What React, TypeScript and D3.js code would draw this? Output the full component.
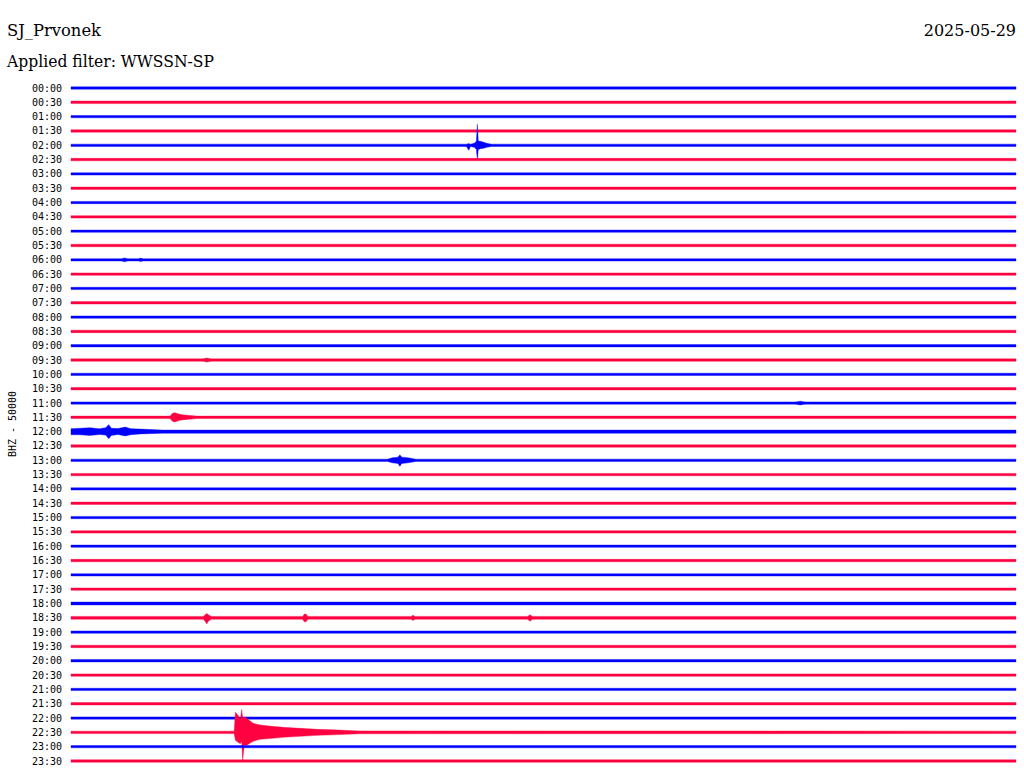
import { useEffect } from "react";
import * as d3 from "d3";

// helicorder: 48 rows of 30 minutes, BHZ channel
const station = "SJ_Prvonek";
const filterName = "WWSSN-SP";
const day = "2025-05-29";
const channelLabel = "BHZ - 50000";

const rowLabels = [
    "00:00", "00:30", "01:00", "01:30", "02:00", "02:30", "03:00", "03:30",
    "04:00", "04:30", "05:00", "05:30", "06:00", "06:30", "07:00", "07:30",
    "08:00", "08:30", "09:00", "09:30", "10:00", "10:30", "11:00", "11:30",
    "12:00", "12:30", "13:00", "13:30", "14:00", "14:30", "15:00", "15:30",
    "16:00", "16:30", "17:00", "17:30", "18:00", "18:30", "19:00", "19:30",
    "20:00", "20:30", "21:00", "21:30", "22:00", "22:30", "23:00", "23:30",
];

// background noise half-amplitude per row (counts)
const rowNoise = [
    4000, 4500, 4000, 4300, 4000, 4300, 4000, 4200, 4000, 4200, 4000, 4300,
    4000, 4200, 4000, 4200, 4000, 4300, 4000, 4300, 4000, 4200, 4000, 4300,
    5500, 4300, 4000, 4200, 4000, 4200, 4000, 4200, 4000, 4200, 4000, 4200,
    5000, 5000, 4000, 4200, 4000, 4200, 4000, 4200, 4000, 4300, 4000, 4300,
];

// event envelopes: [minute in row, upward counts, downward counts]
type EnvPoint = [number, number, number];
const eventRows = [4, 12, 19, 22, 23, 24, 26, 37, 45];
const eventEnvelopes: EnvPoint[][] = [
    [
        [12.55, 4000, 4000], [12.63, 6000, 17500], [12.68, 4000, 4000],
        [12.8, 7000, 7000], [12.87, 14000, 14000], [12.9, 73500, 52500],
        [12.93, 15000, 15000], [13.0, 14000, 12000], [13.1, 10500, 10500],
        [13.2, 7000, 7000], [13.35, 4000, 4000],
    ],
    [
        [1.6, 4000, 4000], [1.7, 6500, 6500], [1.8, 4000, 4000],
        [2.15, 4000, 4000], [2.2, 6000, 6000], [2.3, 4000, 4000],
    ],
    [
        [4.2, 4300, 4300], [4.3, 7000, 7000], [4.45, 4300, 4300],
    ],
    [
        [23.0, 4000, 4000], [23.15, 6500, 6500], [23.3, 4000, 4000],
    ],
    [
        [3.15, 4300, 4300], [3.22, 14000, 14000], [3.3, 16000, 16000],
        [3.45, 10500, 10500], [3.6, 8000, 8000], [4.0, 4300, 4300],
    ],
    [
        [0.0, 10500, 10500], [0.3, 12000, 11000], [0.6, 14000, 13000],
        [0.9, 10000, 10000], [1.1, 14000, 12000], [1.2, 24500, 24500],
        [1.28, 12000, 13000], [1.5, 11000, 10000], [1.72, 16000, 15000],
        [1.9, 10500, 10500], [2.2, 9000, 8000], [2.9, 5500, 5500],
    ],
    [
        [10.05, 4000, 4000], [10.2, 9000, 9000], [10.38, 11000, 11000],
        [10.44, 19000, 21000], [10.5, 11000, 11000], [10.7, 9000, 9000],
        [10.95, 4000, 4000],
    ],
    [
        [4.2, 5000, 5000], [4.27, 12000, 14000], [4.31, 15000, 22000],
        [4.36, 11000, 12000], [4.45, 5000, 5000], [7.35, 5000, 5000],
        [7.41, 13000, 14000], [7.46, 13000, 14000], [7.52, 5000, 5000],
        [10.8, 5000, 5000], [10.86, 9000, 9000], [10.92, 5000, 5000],
        [14.5, 5000, 5000], [14.57, 11000, 12000], [14.65, 5000, 5000],
    ],
    [
        [5.18, 4300, 4300], [5.22, 70000, 28000], [5.3, 60000, 35000],
        [5.38, 45000, 40000], [5.42, 80000, 30000], [5.45, 50000, 98000],
        [5.5, 55000, 45000], [5.58, 49000, 45000], [5.78, 31500, 31500],
        [6.0, 26000, 24000], [6.22, 22700, 22700], [6.73, 17500, 17500],
        [7.27, 14000, 14000], [7.81, 10500, 10500], [8.32, 8700, 8700],
        [9.17, 5000, 5000],
    ],
];

const traceColors = ["#0000ff", "#ff0040"];

const W = 1024;
const H = 780;

export default function App() {
    useEffect(() => {
        document.body.style.margin = "0";
        document.body.style.background = "#ffffff";
    }, []);

    const x = d3.scaleLinear().domain([0, 30]).range([71, 1016]);
    const y = d3
        .scalePoint<string>()
        .domain(rowLabels)
        .range([88, 761]);
    // counts to pixels
    const amp = d3.scaleLinear().domain([0, 50000]).range([0, 14.3]);

    const traces = rowLabels.map((label, i) => {
        const y0 = y(label)!;
        const n = rowNoise[i];
        const k = eventRows.indexOf(i);
        const pts: EnvPoint[] = [[0, n, n]];
        if (k >= 0) pts.push(...eventEnvelopes[k]);
        pts.push([30, n, n]);
        pts.sort((a, b) => a[0] - b[0]);
        const area = d3
            .area<EnvPoint>()
            .x((d) => x(d[0]))
            .y0((d) => y0 + amp(d[2]))
            .y1((d) => y0 - amp(d[1]));
        return { label, y0, path: area(pts)!, color: traceColors[i % 2] };
    });

    const titleFont = "'DejaVu Serif', serif";

    return (
        <svg
            width={W}
            height={H}
            viewBox={`0 0 ${W} ${H}`}
            style={{ position: "absolute", left: 0, top: 0, background: "#fff" }}
        >
            <text x={7} y={36} fontFamily={titleFont} fontSize={16} textLength={94} lengthAdjust="spacingAndGlyphs">
                {station}
            </text>
            <text x={7} y={67} fontFamily={titleFont} fontSize={16} textLength={207} lengthAdjust="spacingAndGlyphs">
                {`Applied filter: ${filterName}`}
            </text>
            <text x={1016} y={36} fontFamily={titleFont} fontSize={16} textAnchor="end">
                {day}
            </text>
            <text
                transform="translate(16,424) rotate(-90)"
                textAnchor="middle"
                fontFamily="'DejaVu Sans Mono', monospace"
                fontSize={10}
            >
                {channelLabel}
            </text>
            <g fontFamily="'DejaVu Sans Mono', monospace" fontSize={10} textAnchor="end">
                {traces.map((t) => (
                    <text key={t.label} x={62} y={t.y0 + 3.5}>
                        {t.label}
                    </text>
                ))}
            </g>
            <g>
                {traces.map((t) => (
                    <path key={t.label} d={t.path} fill={t.color} stroke={t.color} strokeWidth={0.4} />
                ))}
            </g>
        </svg>
    );
}
